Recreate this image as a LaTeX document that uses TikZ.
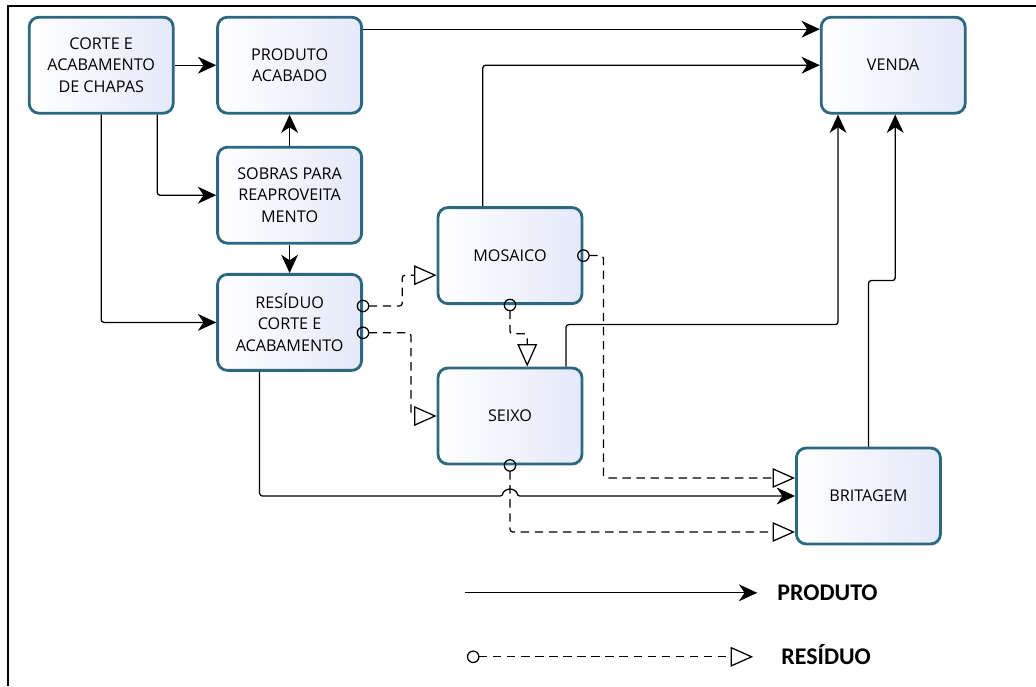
\documentclass[tikz,border=0pt]{standalone}
\usepackage{fontspec}
\setmainfont{Open Sans}
\newfontfamily\legfont{Carlito}
\usetikzlibrary{shapes,arrows.meta,positioning,calc}
\definecolor{boxline}{RGB}{44,104,128}
\definecolor{boxfill}{RGB}{228,233,249}

\begin{document}
\begin{tikzpicture}[
		box/.style={draw=boxline, line width=2pt, rounded corners=7pt,
			left color=white, right color=boxfill,
			minimum width=3.6cm, minimum height=2.4cm,
			align=center, font=\fontsize{11.5}{15.5}\selectfont},
		prodarr/.style={-{Stealth[length=13pt,width=12pt,inset=4pt]}, line width=0.9pt, rounded corners=2pt},
		resarr/.style={{Circle[open,length=9pt,width=9pt]}-{Triangle[open,fill=white,length=16pt,width=14pt]},
			dash pattern=on 6pt off 4pt, line width=0.9pt, shorten <=-4.5pt, rounded corners=2pt},
		legtxt/.style={anchor=base west, inner sep=0pt, font=\legfont\bfseries\fontsize{17}{20}\selectfont}
		]
		\useasboundingbox (0,0) rectangle (25.9,-17.15);
		% Frame (top and left only)
		\draw[line width=1.8pt] (0.2,-17.15) -- (0.2,-0.15) -- (25.9,-0.15);
		
		% Process boxes
		\node[box] (corte)   at (2.53,-1.63)  {CORTE E\\ ACABAMENTO\\ DE CHAPAS};
		\node[box] (acab)    at (7.24,-1.63)  {PRODUTO\\ ACABADO};
		\node[box] (sobras)  at (7.24,-4.88)  {SOBRAS PARA\\ REAPROVEITA\\ MENTO};
		\node[box] (resid)   at (7.24,-8.06)  {RESÍDUO\\ CORTE E\\ ACABAMENTO};
		\node[box] (mosaico) at (12.75,-6.39) {MOSAICO};
		\node[box] (seixo)   at (12.75,-10.40) {SEIXO};
		\node[box] (venda)   at (22.33,-1.63) {VENDA};
		\node[box] (brit)    at (21.71,-12.40) {BRITAGEM};
		
		% Product flows
		\draw[prodarr] (corte) -- (acab);
		\draw[prodarr] ([xshift=1.4cm]corte.south) |- (sobras.west);
		\draw[prodarr] (corte.south) |- (resid.west);
		\draw[prodarr] (sobras) -- (acab);
		\draw[prodarr] (sobras) -- (resid);
		\draw[prodarr] ([yshift=0.9cm]acab.east) -- ([yshift=0.9cm]venda.west);
		\draw[prodarr] ([xshift=-0.68cm]mosaico.north) |- (venda.west);
		\draw[prodarr] ([xshift=1.4cm]seixo.north) -- ++(0,1.05) -| ([xshift=-1.38cm]venda.south);
		\draw[prodarr] (brit.north) -- ++(0,4.15) -| ([xshift=0.05cm]venda.south);
		\coordinate (hop) at (seixo.south |- brit.west);
		\draw[prodarr] ([xshift=-0.75cm]resid.south) |- ([xshift=-5pt]hop)
			arc[start angle=180, end angle=0, radius=5pt] -- (brit.west);
		
		% Residue flows
		\draw[resarr] ([yshift=0.41cm]resid.east) -- ++(0.98,0) |- ([yshift=-0.49cm]mosaico.west);
		\draw[resarr] ([yshift=-0.26cm]resid.east) -- ++(1.2,0) |- (seixo.west);
		\draw[resarr] (mosaico.south) -- ++(0,-0.72) -| ([xshift=0.43cm]seixo.north);
		\draw[resarr] (mosaico.east) -- ++(0.5,0) |- ([yshift=0.45cm]brit.west);
		\draw[resarr] (seixo.south) |- ([yshift=-0.9cm]brit.west);
		
		% Legend
		\coordinate (lp1) at (11.62,-14.82);
		\node[legtxt] (lprod) at (19.43,-15.02) {PRODUTO};
		\draw[prodarr] (lp1) -- ([xshift=-0.5cm]lprod.west |- lp1);
		\coordinate (lr1) at (11.83,-16.42);
		\node[legtxt] (lres) at (19.53,-16.62) {RESÍDUO};
		\draw[resarr] (lr1) -- ([xshift=-0.7cm]lres.west |- lr1);
	\end{tikzpicture}
\end{document}
